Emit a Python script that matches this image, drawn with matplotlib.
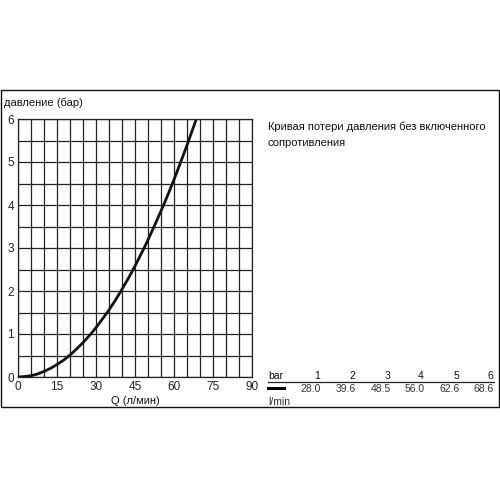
import matplotlib
matplotlib.use("Agg")
import matplotlib.pyplot as plt
from matplotlib.patches import Rectangle
from matplotlib.lines import Line2D
import numpy as np

plt.rcParams['font.family'] = ['Liberation Sans', 'DejaVu Sans']

# curve points (Q in l/min, pressure in bar)
flow = [0, 2.5, 5, 7.5, 10, 12.5, 15, 17.5, 20, 22.5, 25, 28.0, 30, 32.5, 35, 37.5,
        39.6, 42.5, 45, 48.5, 50, 52.5, 56.0, 58, 60, 62.6, 65, 67, 68.6]
pressure = [0, 0.01, 0.03, 0.07, 0.13, 0.2, 0.29, 0.39, 0.51, 0.65, 0.8, 1, 1.15, 1.35,
            1.56, 1.79, 2, 2.3, 2.58, 3, 3.19, 3.52, 4, 4.29, 4.59, 5, 5.39, 5.73, 6]

# table values
table_bar = ["1", "2", "3", "4", "5", "6"]
table_lmin = ["28.0", "39.6", "48.5", "56.0", "62.6", "68.6"]

x_ticks = [0, 15, 30, 45, 60, 75, 90]
y_ticks = [0, 1, 2, 3, 4, 5, 6]

W = H = 500.0
fig = plt.figure(figsize=(5, 5), dpi=100)

def fx(px):
    return px / W

def fy(py):
    return 1 - py / H

ax = fig.add_axes([fx(18), fy(377), fx(252) - fx(18), fy(119) - fy(377)])
ax.plot(flow, pressure, color="#111111", linewidth=2.0, solid_capstyle="round",
        solid_joinstyle="round")
ax.set_xlim(0, 90)
ax.set_ylim(0, 6)
ax.set_xticks(np.arange(0, 91, 5), minor=True)
ax.set_yticks(np.arange(0, 6.01, 0.5), minor=True)
ax.set_xticks(x_ticks)
ax.set_yticks(y_ticks)
ax.grid(which="both", color="#222222", linewidth=0.9)
ax.tick_params(which="both", length=0, labelsize=8.5, colors="#222222", pad=3)
for s in ax.spines.values():
    s.set_color("#222222")
    s.set_linewidth(0.9)
ax.set_axisbelow(True)

fig.text(fx(4), fy(103), "давление (бар)", fontsize=8, color="#111111", va="center", ha="left")
fig.text(fx(135), fy(401), "Q (л/мин)", fontsize=8, color="#111111", va="center", ha="center")

fig.text(fx(268), fy(127), "Кривая потери давления без включенного", fontsize=8,
         color="#111111", va="center", ha="left")
fig.text(fx(268), fy(143), "сопротивления", fontsize=8, color="#111111", va="center", ha="left")

# small table
col_right = [320, 355, 390, 424, 459, 493]
fig.text(fx(268), fy(376), "bar", fontsize=7.5, color="#111111", va="center", ha="left")
for xr, b, q in zip(col_right, table_bar, table_lmin):
    fig.text(fx(xr), fy(376), b, fontsize=7.5, color="#111111", va="center", ha="right")
    fig.text(fx(xr + 1), fy(389), q, fontsize=7.5, color="#333333", va="center", ha="right")
fig.text(fx(268), fy(402), "l/min", fontsize=7.5, color="#333333", va="center", ha="left")
fig.add_artist(Line2D([fx(268), fx(494)], [fy(382), fy(382)], color="#222222",
                      linewidth=0.9, transform=fig.transFigure))
fig.add_artist(Line2D([fx(268), fx(284)], [fy(388), fy(388)], color="#000000",
                      linewidth=2.2, transform=fig.transFigure))

# outer frame
fig.add_artist(Rectangle((fx(1), fy(407)), fx(498), (407 - 90) / H, fill=False,
                         edgecolor="#111111", linewidth=1.0, transform=fig.transFigure))

fig.savefig("out.png", dpi=100)
